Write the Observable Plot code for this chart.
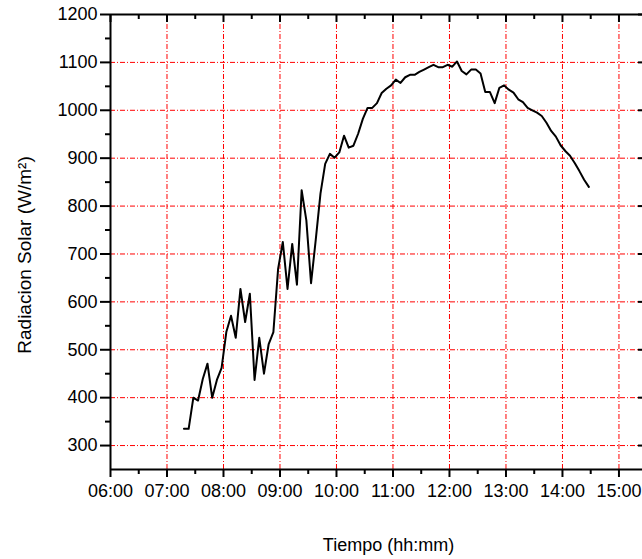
<!DOCTYPE html>
<html><head><meta charset="utf-8">
<script src="https://cdn.jsdelivr.net/npm/d3@7"></script>
<script src="https://cdn.jsdelivr.net/npm/@observablehq/plot@0.6"></script>
<style>html,body{margin:0;padding:0;background:#fff;}</style>
</head><body><div id="chart"></div>
<script>
const times = ["07:18","07:23","07:28","07:33","07:38","07:43","07:48","07:53","07:58",
"08:03","08:08","08:13","08:18","08:23","08:28","08:33","08:38","08:43","08:48","08:53","08:58",
"09:03","09:08","09:13","09:18","09:23","09:28","09:33","09:38","09:43","09:48","09:53","09:58",
"10:03","10:08","10:13","10:18","10:23","10:28","10:33","10:38","10:43","10:48","10:53","10:58",
"11:03","11:08","11:13","11:18","11:23","11:28","11:33","11:38","11:43","11:48","11:53","11:58",
"12:03","12:08","12:13","12:18","12:23","12:28","12:33","12:38","12:43","12:48","12:53","12:58",
"13:03","13:08","13:13","13:18","13:23","13:28","13:33","13:38","13:43","13:48","13:53","13:58",
"14:03","14:08","14:13","14:18","14:23","14:28"];
const radiation = [335,335,400,394,439,471,400,437,462,537,
571,525,627,558,617,437,525,450,512,537,
669,725,627,721,636,833,770,639,730,826,
888,909,901,912,947,922,926,951,982,1005,
1005,1015,1036,1045,1052,1064,1057,1069,1074,1074,
1080,1085,1090,1095,1090,1090,1095,1091,1102,1082,
1075,1085,1085,1077,1038,1038,1015,1047,1052,1043,
1037,1023,1017,1005,1000,995,988,974,957,945,
927,915,905,890,873,855,840];
const xTickLabels = ["06:00","07:00","08:00","09:00","10:00","11:00","12:00","13:00","14:00","15:00"];
const xMinorLabels = ["06:30","07:30","08:30","09:30","10:30","11:30","12:30","13:30","14:30"];
const xDomainLabels = ["06:00","15:25"];
const yTicks = [300,400,500,600,700,800,900,1000,1100,1200];
const yMinorTicks = [350,450,550,650,750,850,950,1050,1150];
const yGrid = [300,400,500,600,700,800,900,1000,1100];
const yDomain = [250,1200];
const xLabel = "Tiempo (hh:mm)";
const yLabel = "Radiacion Solar (W/m²)";

const parse = d3.utcParse("%H:%M");
const fmt = d3.utcFormat("%H:%M");
const data = times.map((t, i) => ({t: parse(t), v: radiation[i]}));
const xTicks = xTickLabels.map(parse);
const xMinor = xMinorLabels.map(parse);
const xDomain = xDomainLabels.map(parse);

const W = 642, H = 559, mL = 110, mR = 0, mT = 14, mB = 90;
const pw = W - mL - mR, ph = H - mT - mB;
const grid = {stroke: "#ff0000", strokeWidth: 1, strokeDasharray: "5,2,1,2"};

const chart = Plot.plot({
  width: W, height: H,
  marginLeft: mL, marginRight: mR, marginTop: mT, marginBottom: mB,
  style: {fontFamily: "'Liberation Sans', Arial, sans-serif", fontSize: "18px", color: "#000", background: "#fff"},
  x: {type: "utc", domain: xDomain},
  y: {domain: yDomain},
  marks: [
    Plot.ruleX(xTicks.slice(1), grid),
    Plot.ruleY(yGrid, grid),
    Plot.line(data, {x: "t", y: "v", stroke: "#000", strokeWidth: 2}),
    Plot.axisX(xTicks, {anchor: "bottom", tickSize: 8, tickPadding: 7, tickFormat: fmt, label: null, strokeWidth: 2, fontSize: 18}),
    Plot.axisX(xMinor, {anchor: "bottom", tickSize: 5, tickFormat: () => "", label: null, strokeWidth: 2}),
    Plot.axisY(yTicks, {anchor: "left", tickSize: 10, tickPadding: 3, tickFormat: d3.format("d"), label: null, strokeWidth: 2, fontSize: 18}),
    Plot.axisY(yMinorTicks, {anchor: "left", tickSize: 5, tickFormat: () => "", label: null, strokeWidth: 2}),
    Plot.tickX(xTicks, {x: d => d, insetBottom: ph - 8, stroke: "#000", strokeWidth: 2}),
    Plot.tickX(xMinor, {x: d => d, insetBottom: ph - 5, stroke: "#000", strokeWidth: 2}),
    Plot.tickY(yTicks, {y: d => d, insetLeft: pw - 4, stroke: "#000", strokeWidth: 2}),
    Plot.ruleX([xDomain[0]], {stroke: "#000", strokeWidth: 2}),
    Plot.ruleY([yDomain[0]], {stroke: "#000", strokeWidth: 2}),
    Plot.ruleY([yDomain[1]], {stroke: "#000", strokeWidth: 2}),
    Plot.text([xLabel], {text: d => d, frameAnchor: "bottom", textAnchor: "middle", lineAnchor: "middle", dy: 76, dx: 12, fontSize: 18, fill: "#000"}),
    Plot.text([yLabel], {text: d => d, frameAnchor: "left", textAnchor: "middle", lineAnchor: "middle", rotate: -90, dx: -86, dy: 13, fontSize: 19, fill: "#000"})
  ]
});
document.getElementById("chart").appendChild(chart);
</script>
</body></html>
